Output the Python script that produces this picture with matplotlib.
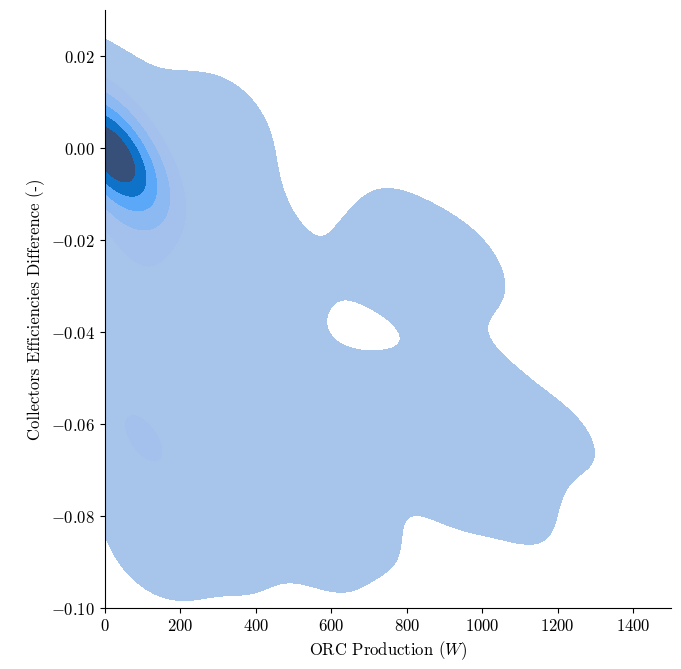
import matplotlib
matplotlib.use("Agg")
import matplotlib.pyplot as plt
import seaborn as sns
import pandas as pd
from matplotlib.colors import ListedColormap

# estimated sample locations (W, -) and their weights
core_x = [5, 35, 80, 100, 40, 20, 60, 20]
core_y = [0.001, -0.004, -0.022, -0.063, -0.034, -0.050, -0.075, 0.012]
core_w = [90, 70, 14, 20, 3, 2, 2, 3]

spread_rows = {
    0.011: [60, 170],
    0.008: [260, 350, 380],
    0.003: [250, 340],
    -0.004: [200, 300, 360],
    -0.012: [150, 250, 350, 390],
    -0.016: [760, 820],
    -0.021: [150, 250, 350, 450, 660, 750, 850, 940],
    -0.025: [1020],
    -0.028: [100, 200, 300, 400, 500, 600, 700, 800, 900, 990],
    -0.036: [50, 150, 250, 350, 460, 870],
    -0.050: [100, 200, 300, 400, 500, 600, 700, 800, 900, 1000, 1070],
    -0.060: [250, 350, 450, 550, 650, 750, 850, 950, 1050, 1150, 1240],
    -0.066: [1290],
    -0.070: [200, 300, 400, 500, 600, 700, 800, 900, 1000, 1100, 1180],
    -0.080: [100, 200, 300, 400, 500, 600, 700, 900, 1000, 1100, 1130],
    -0.087: [50, 150, 250, 350, 450, 550, 650, 750],
    -0.092: [100, 200, 350, 600],
}

spread_x = [x for row in spread_rows.values() for x in row]
spread_y = [y for y, row in spread_rows.items() for _ in row]

orc_w = core_x + spread_x
eff_diff = core_y + spread_y
weight = core_w + [1.0] * len(spread_x)

band_colors = ["#a7c4ea", "#a3c1ec", "#9dbdee", "#8db9f2", "#5aa8f7",
               "#1f8ae8", "#0d72c8", "#1765a5", "#36507a"]

plt.rcParams["font.family"] = "serif"
plt.rcParams["font.serif"] = ["cmr10"]
plt.rcParams["mathtext.fontset"] = "cm"
plt.rcParams["axes.formatter.use_mathtext"] = True
plt.rcParams["font.size"] = 12

df = pd.DataFrame({"orc": orc_w, "diff": eff_diff, "w": weight})

fig = plt.figure(figsize=(6.81, 6.69), dpi=100)
ax = fig.add_axes([0.154, 0.091, 0.831, 0.894])
sns.kdeplot(data=df, x="orc", y="diff", weights="w", fill=True,
            cmap=ListedColormap(band_colors), bw_method=0.27, ax=ax)
ax.set_xlim(0, 1500)
ax.set_ylim(-0.10, 0.030)
ax.set_yticks([-0.10, -0.08, -0.06, -0.04, -0.02, 0.00, 0.02])
ax.set_yticklabels(["$-0.10$", "$-0.08$", "$-0.06$", "$-0.04$", "$-0.02$", "$0.00$", "$0.02$"])
ax.set_xticks([0, 200, 400, 600, 800, 1000, 1200, 1400])
ax.set_xticklabels(["$0$", "$200$", "$400$", "$600$", "$800$", "$1000$", "$1200$", "$1400$"])
ax.set_xlabel("ORC Production ($W$)")
ax.set_ylabel("Collectors Efficiencies Difference (-)")
sns.despine(ax=ax)
fig.savefig("out.png", dpi=100)
